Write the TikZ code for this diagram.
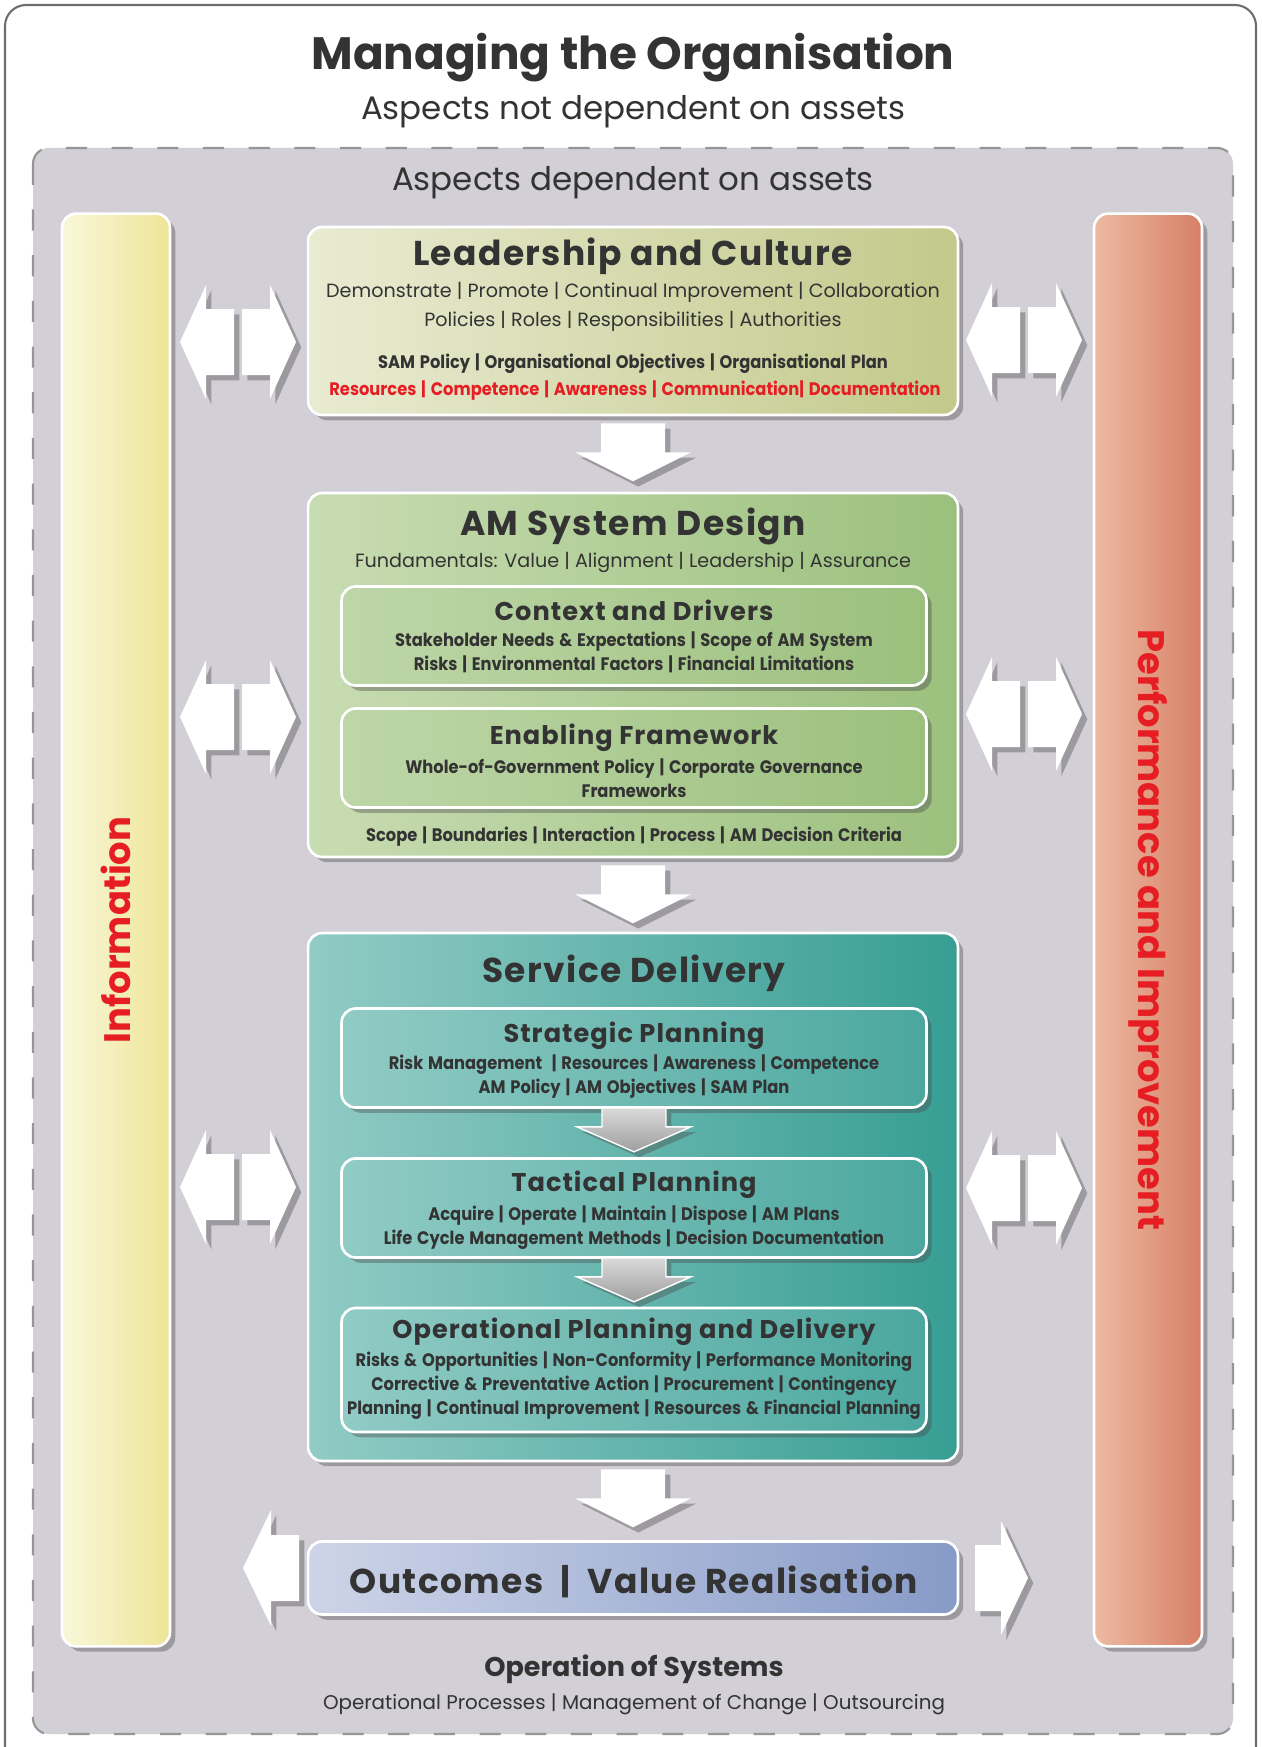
\documentclass[tikz,border=0pt]{standalone}
\usepackage{fontspec}
\setmainfont{Poppins}
\newfontfamily\TrackFont{Poppins}[LetterSpace=4]
\newfontfamily\NarrowFont{Poppins}[FakeStretch=0.9,WordSpace=1.4]
\usetikzlibrary{shadows}
\definecolor{ColText}{RGB}{51,51,51}
\definecolor{ColRed}{RGB}{230,30,36}
\definecolor{ColFrame}{RGB}{110,110,110}
\definecolor{ColRegion}{RGB}{210,207,215}
\definecolor{ColDash}{RGB}{150,150,150}
\definecolor{ColLeadA}{RGB}{233,235,210}
\definecolor{ColLeadB}{RGB}{194,201,138}
\definecolor{ColDesA}{RGB}{200,220,178}
\definecolor{ColDesB}{RGB}{155,192,125}
\definecolor{ColDesC}{RGB}{190,214,168}
\definecolor{ColSerA}{RGB}{145,203,197}
\definecolor{ColSerB}{RGB}{55,158,148}
\definecolor{ColOutA}{RGB}{205,212,232}
\definecolor{ColOutB}{RGB}{135,155,200}
\definecolor{ColInfoA}{RGB}{249,247,218}
\definecolor{ColInfoB}{RGB}{238,229,152}
\definecolor{ColPerfA}{RGB}{237,186,162}
\definecolor{ColPerfB}{RGB}{214,128,102}
\definecolor{ColGreyA}{RGB}{218,218,218}
\definecolor{ColGreyB}{RGB}{158,158,158}
\tikzstyle{Shadow}=[drop shadow={shadow xshift=3pt,shadow yshift=-3pt,opacity=.4,fill=black!70}]
\tikzstyle{BoxBase}=[rectangle,rounded corners=8pt,draw=white,line width=1.5pt,Shadow]
\tikzstyle{LeadBox}=[BoxBase,left color=ColLeadA,right color=ColLeadB,minimum width=13cm,minimum height=3.76cm]
\tikzstyle{DesBox}=[BoxBase,left color=ColDesA,right color=ColDesB,minimum width=13cm,minimum height=7.28cm]
\tikzstyle{DesInner}=[BoxBase,left color=ColDesC,right color=ColDesB,minimum width=11.7cm,minimum height=1.98cm]
\tikzstyle{SerBox}=[BoxBase,left color=ColSerA,right color=ColSerB,minimum width=13cm,minimum height=10.56cm]
\tikzstyle{SerInner}=[BoxBase,left color=ColSerA,right color=ColSerB!90!white,minimum width=11.7cm,minimum height=1.98cm]
\tikzstyle{OutBox}=[BoxBase,left color=ColOutA,right color=ColOutB,minimum width=13cm,minimum height=1.46cm]
\tikzstyle{SideBar}=[BoxBase,minimum width=2.16cm,minimum height=28.66cm]
\tikzstyle{WhiteArrow}=[fill=white,Shadow]
\tikzstyle{GreyArrow}=[top color=ColGreyA,bottom color=ColGreyB,draw=white,line width=.8pt,Shadow]
\tikzstyle{TitleText}=[anchor=base,inner sep=0pt,text=ColText,font=\fontsize{25.8}{30}\selectfont\bfseries]
\tikzstyle{SubText}=[anchor=base,inner sep=0pt,text=ColText,font=\fontsize{18.5}{22}\selectfont]
\tikzstyle{BoxTitle}=[anchor=base,inner sep=0pt,text=ColText,font=\fontsize{19.6}{24}\selectfont\TrackFont\bfseries]
\tikzstyle{InnerTitle}=[anchor=base,inner sep=0pt,text=ColText,font=\fontsize{14.6}{17}\selectfont\TrackFont\bfseries]
\tikzstyle{LightText}=[anchor=base,inner sep=0pt,text=ColText,font=\fontsize{10.9}{13}\selectfont]
\tikzstyle{BoldText}=[anchor=base,inner sep=0pt,text=ColText,font=\fontsize{10.3}{12}\selectfont\NarrowFont\bfseries]
\tikzstyle{RedText}=[BoldText,text=ColRed]
\tikzstyle{SideText}=[inner sep=0pt,text=ColRed,font=\fontsize{21}{24}\selectfont\bfseries]

\begin{document}
\begin{tikzpicture}[x=0.02cm,y=-0.02cm]
\useasboundingbox (0,0) rectangle (1261,1747);
\clip (0,0) rectangle (1261,1747);
\fill[white] (0,0) rectangle (1261,1747);
\draw[ColFrame,line width=1.2pt,rounded corners=12pt] (5,5) rectangle (1256,1800);
\node[TitleText] (title) at (633,70) {Managing the Organisation};
\node[SubText] (notdep) at (633,120) {Aspects not dependent on assets};
\draw[fill=ColRegion,draw=ColDash,line width=1.2pt,dash pattern=on 12pt off 14pt,rounded corners=9pt] (33,148) rectangle (1233,1734);
\node[SubText] (dep) at (633,191) {Aspects dependent on assets};

% side bars
\node[SideBar,left color=ColInfoA,right color=ColInfoB] (info) at (116,930) {};
\node[SideBar,left color=ColPerfA,right color=ColPerfB] (perf) at (1148,930) {};
\node[SideText,rotate=90] (infoT) at (info.center) {Information};
\node[SideText,rotate=-90] (perfT) at (perf.center) {Performance and Improvement};

% main blocks
\node[LeadBox] (lead) at (633,321) {};
\node[DesBox] (asd) at (633,675) {};
\node[DesInner] (ctx) at (634,636) {};
\node[DesInner] (enab) at (634,758) {};
\node[SerBox] (sd) at (633,1197) {};
\node[SerInner] (strat) at (634,1058) {};
\node[SerInner] (tact) at (634,1208) {};
\node[SerInner,minimum height=2.48cm] (oper) at (634,1370) {};
\node[OutBox] (outc) at (633,1578) {};

% arrows
\foreach \b in {lead,asd,sd}
  \fill[WhiteArrow,shift={(\b.south)}] (-32,7) -- (32,7) -- (32,36) -- (58,36) -- (0,65) -- (-58,36) -- (-32,36) -- cycle;
\foreach \b in {strat,tact}
  \filldraw[GreyArrow,shift={(\b.south)}] (-32,-1) -- (32,-1) -- (32,18) -- (57,18) -- (0,43) -- (-57,18) -- (-32,18) -- cycle;
\coordinate (la1) at (238,342);
\coordinate (la2) at (238,717);
\coordinate (la3) at (238,1187);
\coordinate (ra1) at (1024,340);
\coordinate (ra2) at (1024,714);
\coordinate (ra3) at (1024,1188);
\foreach \c in {la1,la2,la3,ra1,ra2,ra3}{
  \fill[WhiteArrow,shift={(\c)}] (-4,-33) -- (-32,-33) -- (-32,-57) -- (-58,0) -- (-32,57) -- (-32,33) -- (-4,33) -- cycle;
  \fill[WhiteArrow,shift={(\c)}] (4,-33) -- (32,-33) -- (32,-57) -- (58,0) -- (32,57) -- (32,33) -- (4,33) -- cycle;
}
\coordinate (oL) at (271,1568);
\coordinate (oR) at (1001,1578);
\fill[WhiteArrow,shift={(oL)}] (28,-33) -- (0,-33) -- (0,-58) -- (-28,0) -- (0,58) -- (0,33) -- (28,33) -- cycle;
\fill[WhiteArrow,shift={(oR)}] (-26,-33) -- (0,-33) -- (0,-57) -- (27,0) -- (0,57) -- (0,33) -- (-26,33) -- cycle;

% texts
\node[BoxTitle] (leadT) at (633,265) {Leadership and Culture};
\node[LightText] (lead1) at (633,297) {Demonstrate | Promote | Continual Improvement | Collaboration};
\node[LightText] (lead2) at (633,326) {Policies | Roles | Responsibilities | Authorities};
\node[BoldText] (lead3) at (633,368) {SAM Policy | Organisational Objectives | Organisational Plan};
\node[RedText] (lead4) at (635,395) {Resources | Competence | Awareness | Communication| Documentation};

\node[BoxTitle] (asdT) at (633,535) {AM System Design};
\node[LightText] (asd1) at (633,567) {Fundamentals: Value | Alignment | Leadership | Assurance};
\node[InnerTitle] (ctxT) at (634,620) {Context and Drivers};
\node[BoldText] (ctx1) at (634,646) {Stakeholder Needs \& Expectations | Scope of AM System};
\node[BoldText] (ctx2) at (634,670) {Risks | Environmental Factors | Financial Limitations};
\node[InnerTitle] (enabT) at (634,744) {Enabling Framework};
\node[BoldText] (enab1) at (634,773) {Whole-of-Government Policy | Corporate Governance};
\node[BoldText] (enab2) at (634,797) {Frameworks};
\node[BoldText] (asd2) at (634,841) {Scope | Boundaries | Interaction | Process | AM Decision Criteria};

\node[BoxTitle] (sdT) at (634,982) {Service Delivery};
\node[InnerTitle] (stratT) at (634,1042) {Strategic Planning};
\node[BoldText] (strat1) at (634,1069) {Risk Management\ \ | Resources | Awareness | Competence};
\node[BoldText] (strat2) at (634,1093) {AM Policy | AM Objectives | SAM Plan};
\node[InnerTitle] (tactT) at (634,1191) {Tactical Planning};
\node[BoldText] (tact1) at (634,1220) {Acquire | Operate | Maintain | Dispose | AM Plans};
\node[BoldText] (tact2) at (634,1244) {Life Cycle Management Methods | Decision Documentation};
\node[InnerTitle] (operT) at (634,1338) {Operational Planning and Delivery};
\node[BoldText] (oper1) at (634,1366) {Risks \& Opportunities | Non-Conformity | Performance Monitoring};
\node[BoldText] (oper2) at (634,1390) {Corrective \& Preventative Action | Procurement | Contingency};
\node[BoldText] (oper3) at (634,1414) {Planning | Continual Improvement | Resources \& Financial Planning};

\node[BoxTitle] (outcT) at (634,1593) {Outcomes\enspace|\enspace Value Realisation};
\node[InnerTitle,font=\fontsize{15.4}{18}\selectfont\bfseries] (opsT) at (634,1676) {Operation of Systems};
\node[LightText,font=\fontsize{11.3}{13}\selectfont] (ops1) at (634,1709) {Operational Processes | Management of Change | Outsourcing};
\end{tikzpicture}
\end{document}
